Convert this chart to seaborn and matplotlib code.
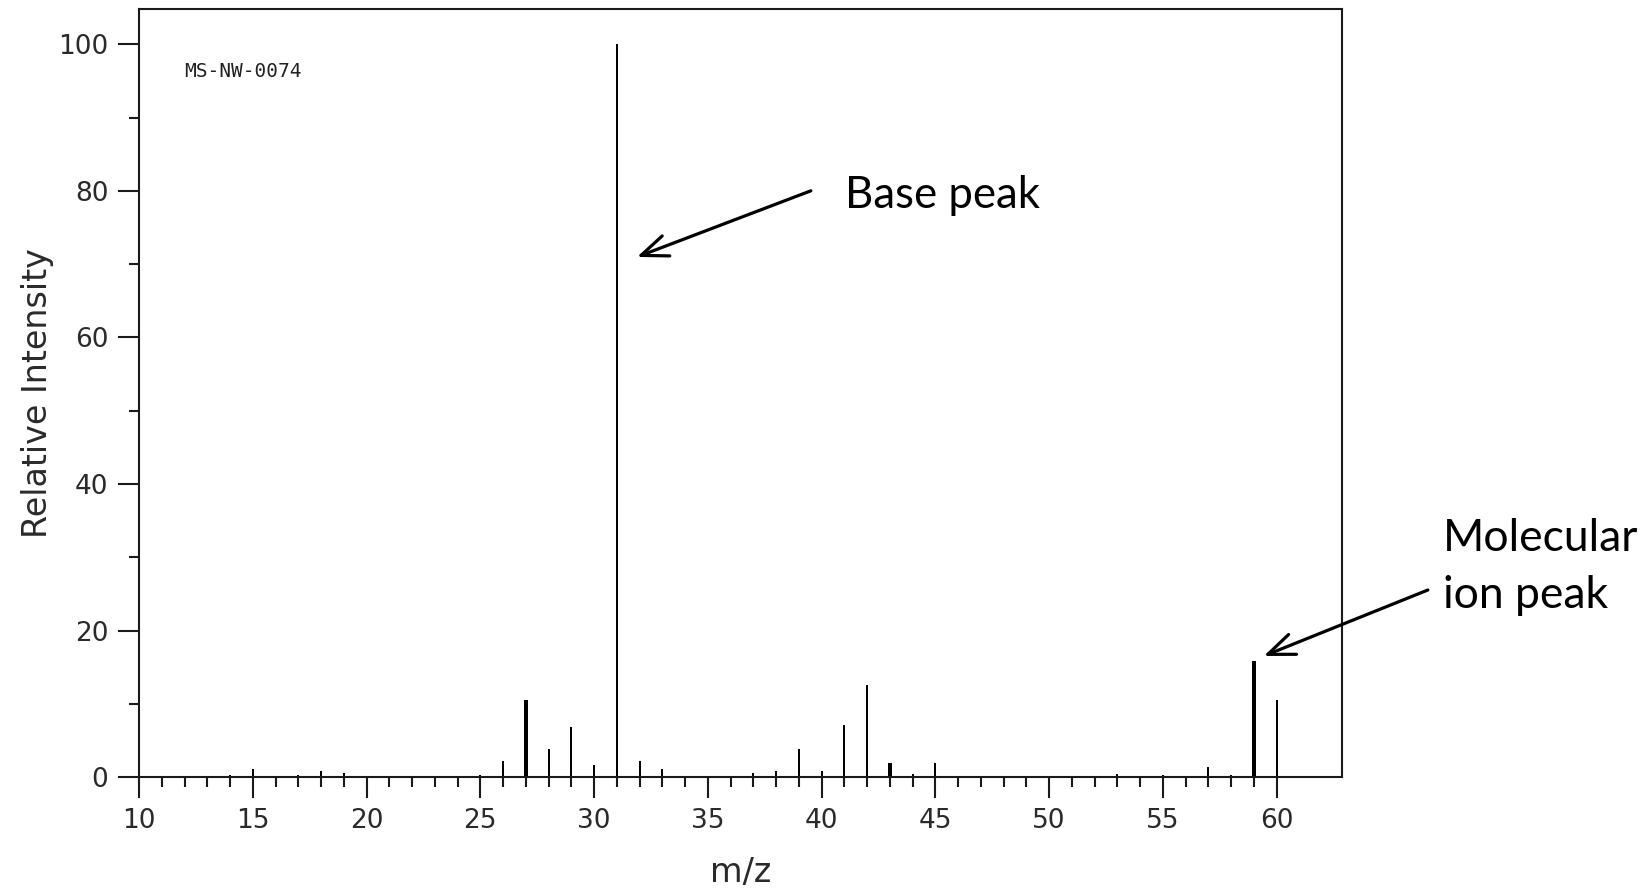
import numpy as np
import matplotlib
matplotlib.use("Agg")
import matplotlib.pyplot as plt
from matplotlib.ticker import FixedLocator
import seaborn as sns

# ---- data ----
mz = [14, 15, 17, 18, 19, 25, 26, 27, 28, 29, 30, 31, 32, 33, 37, 38, 39, 40,
      41, 42, 43, 44, 45, 53, 55, 57, 58, 59, 60, 61]
intensity = [0.3, 1.1, 0.3, 0.9, 0.6, 0.3, 2.2, 10.5, 3.9, 6.9, 1.7, 100, 2.2, 1.1,
             0.6, 0.9, 3.9, 0.9, 7.1, 12.6, 2.0, 0.4, 2.0, 0.4, 0.3, 1.4, 0.3,
             15.9, 10.5, 0.2]
thick_mz = [27, 43, 59]
x_major = [10, 15, 20, 25, 30, 35, 40, 45, 50, 55, 60]
y_major = [0, 20, 40, 60, 80, 100]
sample_id = "MS-NW-0074"

sns.set_theme(style="ticks")
plt.rcParams["font.family"] = ["DejaVu Sans"]
ink = "#1a1a1a"

fig = plt.figure(figsize=(16.47, 8.92), dpi=100)
ax = fig.add_axes([0.0844, 0.1286, 0.7302, 0.8613])

mz_arr = np.array(mz)
int_arr = np.array(intensity)
thin_w = 0.09
sns.barplot(x=mz_arr, y=int_arr, native_scale=True, width=thin_w / np.min(np.diff(np.unique(mz_arr))),
            color="black", saturation=1, linewidth=0, errorbar=None, ax=ax)
tmask = np.isin(mz_arr, thick_mz)
tx = mz_arr[tmask]
sns.barplot(x=tx, y=int_arr[tmask], native_scale=True, width=0.17 / np.min(np.diff(tx)),
            color="black", saturation=1, linewidth=0, errorbar=None, ax=ax)

ax.set_xlim(10, 62.86)
ax.set_ylim(0, 104.8)
ax.xaxis.set_major_locator(FixedLocator(x_major))
ax.xaxis.set_minor_locator(FixedLocator(list(range(10, 61))))
ax.yaxis.set_major_locator(FixedLocator(y_major))
ax.yaxis.set_minor_locator(FixedLocator([10, 30, 50, 70, 90]))
ax.tick_params(axis="both", which="major", length=15, width=1.5, color=ink,
               labelsize=19, labelcolor="#2a2a2a", direction="out")
ax.tick_params(axis="both", which="minor", length=7.5, width=1.5, color=ink, direction="out")
ax.tick_params(axis="x", which="major", pad=7)
ax.tick_params(axis="y", which="major", pad=7)
for s in ax.spines.values():
    s.set_visible(True)
    s.set_linewidth(1.5)
    s.set_color(ink)

ax.set_xlabel("m/z", fontsize=24, color="#2a2a2a")
ax.set_ylabel("Relative Intensity", fontsize=24, color="#2a2a2a")
ax.xaxis.set_label_coords(0.5, -0.103)
ax.yaxis.set_label_coords(-0.071, 0.5)

ax.text(12.0, 96.3, sample_id, family="DejaVu Sans Mono", fontsize=14,
        va="center", ha="left", color="#222222")

arrow = dict(arrowstyle="->,head_length=0.8,head_width=0.32", lw=2.3, color="black",
             shrinkA=0, shrinkB=0, mutation_scale=24)
ax.annotate("", xy=(31.89, 70.98), xytext=(39.53, 80.0), arrowprops=arrow,
            annotation_clip=False)
ax.text(41.05, 77.7, "Base peak", family="Lato", fontsize=31.5, va="baseline",
        ha="left", color="black", clip_on=False)
ax.annotate("", xy=(59.44, 16.55), xytext=(66.65, 25.55), arrowprops=arrow,
            annotation_clip=False)
ax.text(67.30, 30.9, "Molecular", family="Lato", fontsize=32, va="baseline",
        ha="left", color="black", clip_on=False)
ax.text(67.30, 23.1, "ion peak", family="Lato", fontsize=32, va="baseline",
        ha="left", color="black", clip_on=False)

fig.savefig("out.png", dpi=100, facecolor="white")
